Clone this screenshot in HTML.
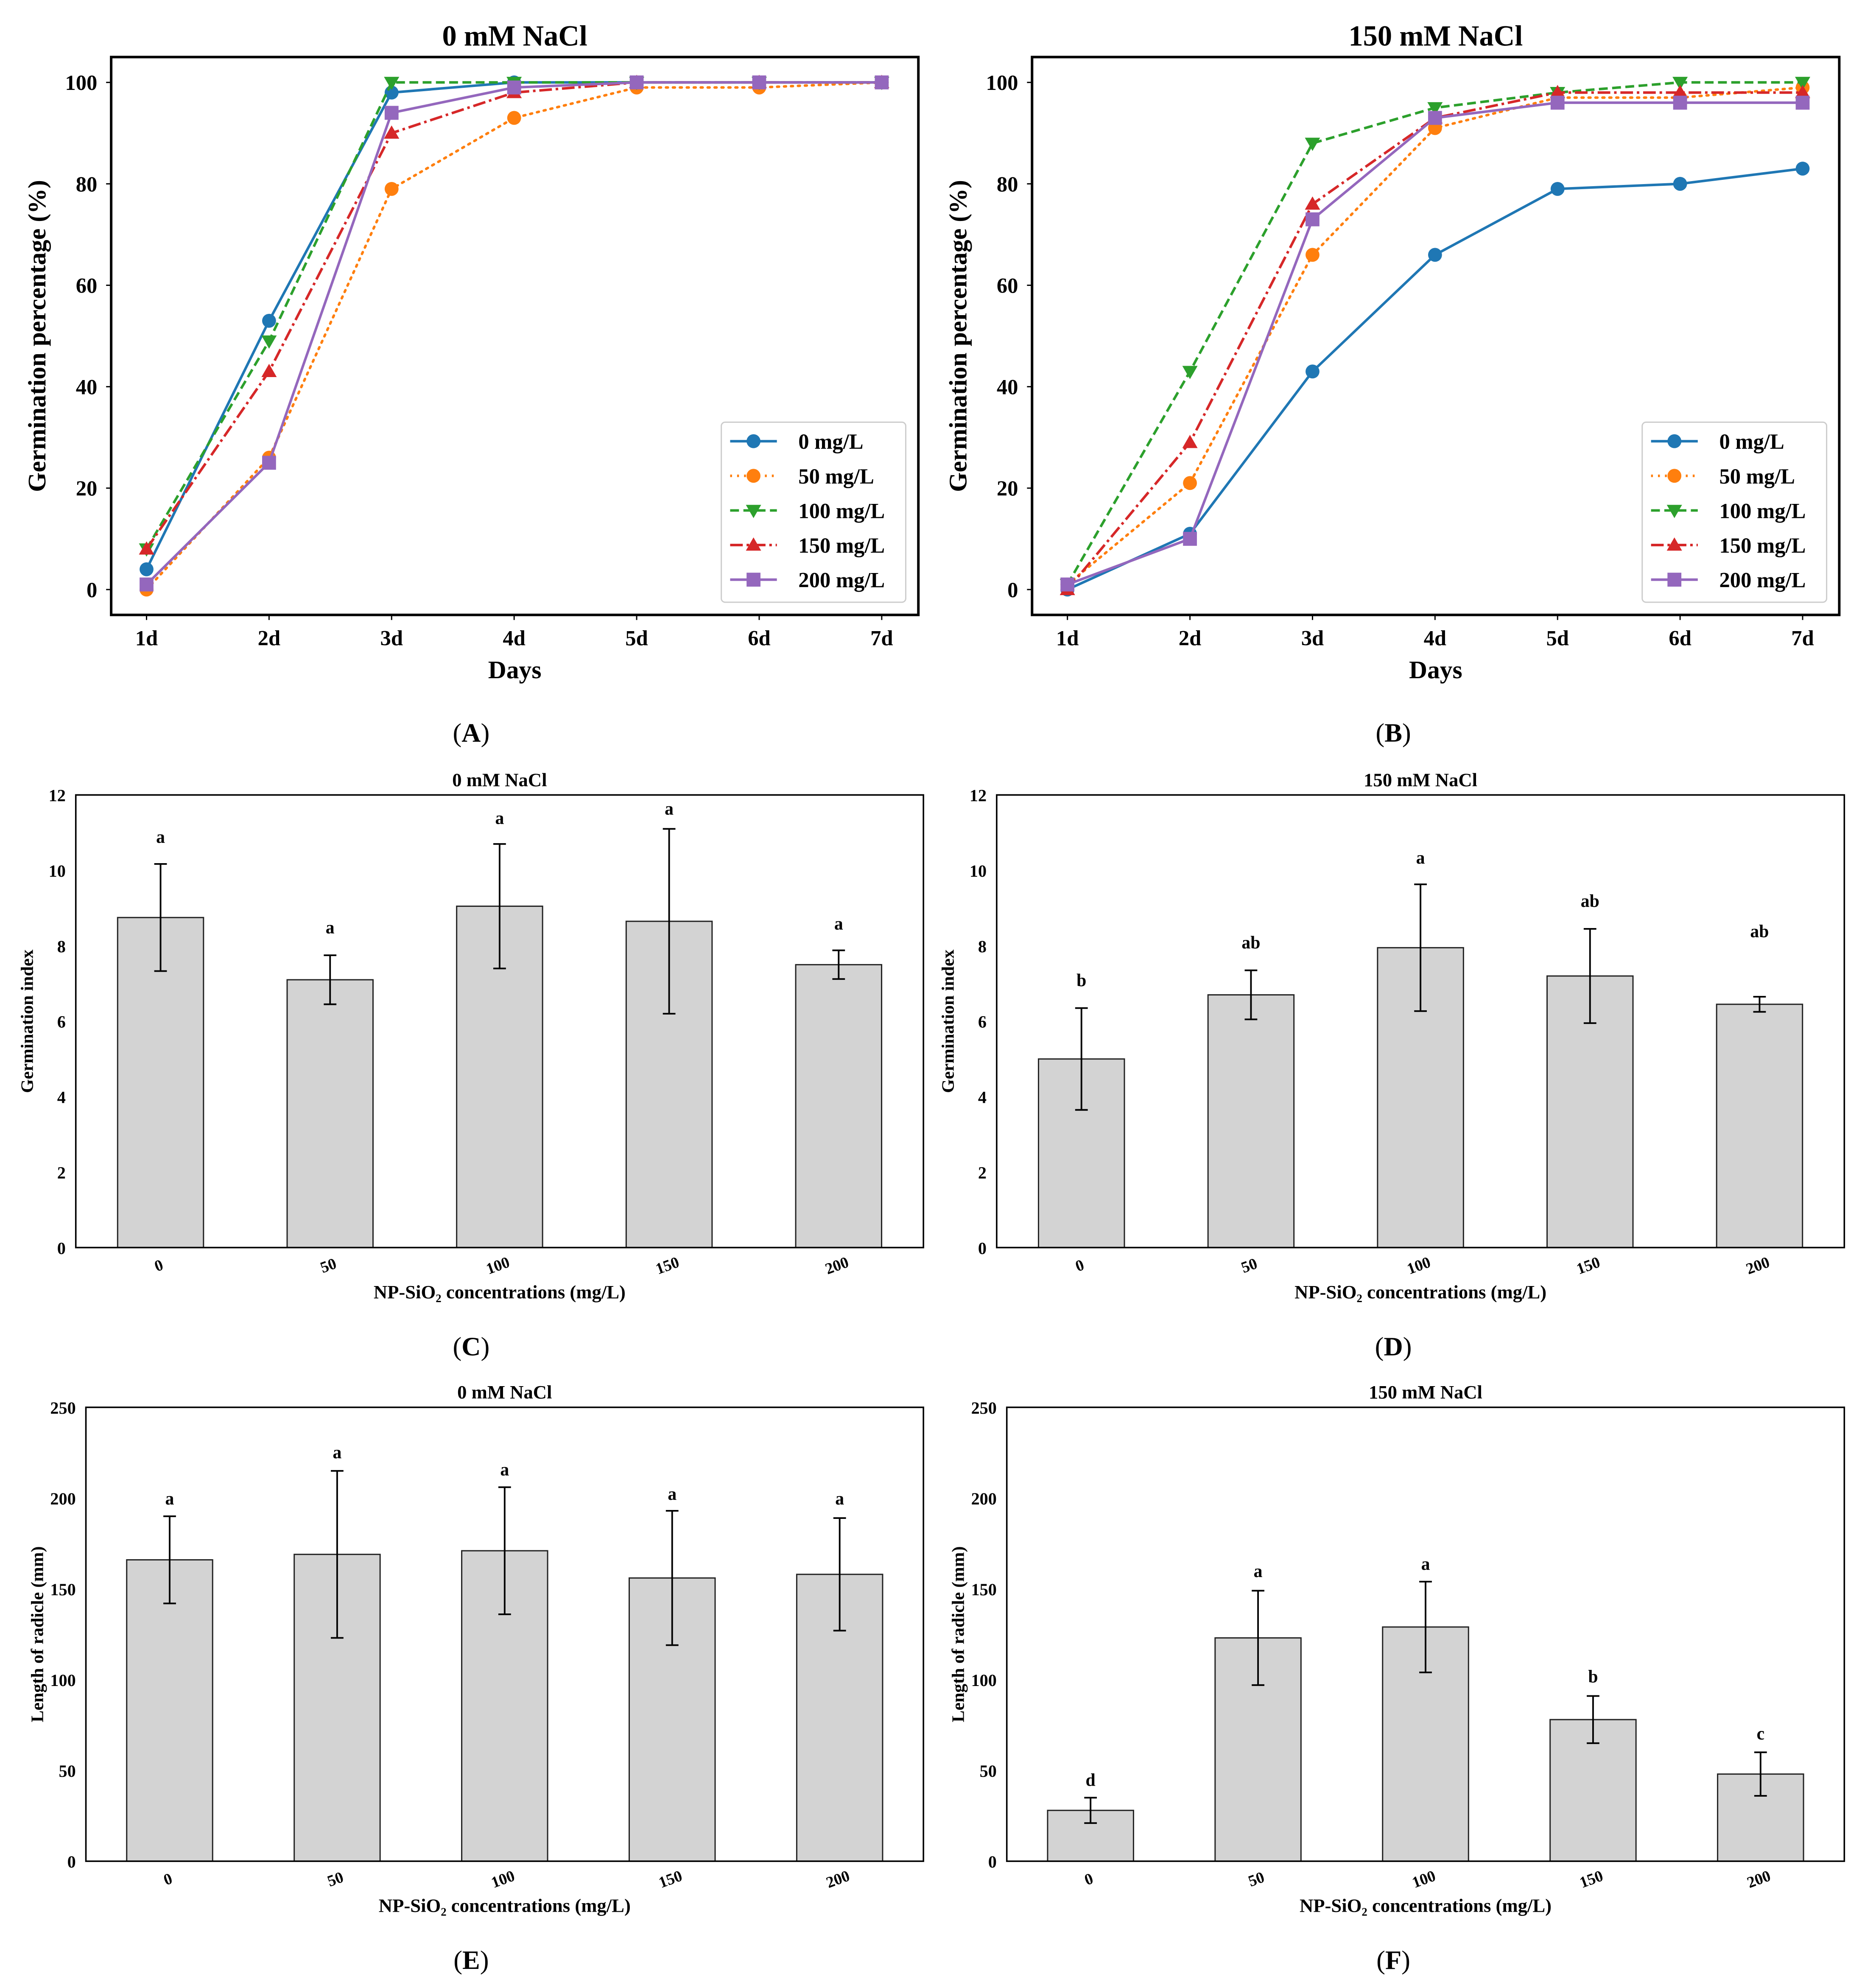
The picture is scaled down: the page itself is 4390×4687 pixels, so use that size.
<!DOCTYPE html>
<html><head><meta charset="utf-8"><style>
html,body{margin:0;padding:0;background:#fff}
svg{display:block}
text{font-family:"Liberation Serif",serif;font-weight:bold;fill:#000}
</style></head><body>
<svg id="fig" xmlns="http://www.w3.org/2000/svg" width="4390" height="4687" viewBox="0 0 1474 1568" preserveAspectRatio="none"></svg>
<script>
// ---- Line chart data ----
const days = ["1d","2d","3d","4d","5d","6d","7d"];
const seriesNames = ["0 mg/L","50 mg/L","100 mg/L","150 mg/L","200 mg/L"];
const lineTicks = [0,20,40,60,80,100];
const a0 = [4,53,98,100,100,100,100];
const a50 = [0,26,79,93,99,99,100];
const a100 = [8,49,100,100,100,100,100];
const a150 = [8,43,90,98,100,100,100];
const a200 = [1,25,94,99,100,100,100];
const b0 = [0,11,43,66,79,80,83];
const b50 = [1,21,66,91,97,97,99];
const b100 = [1,43,88,95,98,100,100];
const b150 = [0,29,76,93,98,98,98];
const b200 = [1,10,73,93,96,96,96];
// ---- Bar chart data ----
const conc = ["0","50","100","150","200"];
const giTicks = [0,2,4,6,8,10,12];
const rTicks = [0,50,100,150,200,250];
const cMean = [8.75,7.1,9.05,8.65,7.5];
const cErr = [1.42,0.65,1.65,2.45,0.38];
const cLet = ["a","a","a","a","a"];
const cLetY = [10.9,8.5,11.4,11.65,8.6];
const dMean = [5.0,6.7,7.95,7.2,6.45];
const dErr = [1.35,0.65,1.68,1.25,0.2];
const dLet = ["b","ab","a","ab","ab"];
const dLetY = [7.1,8.1,10.35,9.2,8.4];
const eMean = [166,169,171,156,158];
const eErr = [24,46,35,37,31];
const eLet = ["a","a","a","a","a"];
const eLetY = [200,225.5,216,202.5,200];
const fMean = [28,123,129,78,48];
const fErr = [7,26,25,13,12];
const fLet = ["d","a","a","b","c"];
const fLetY = [45,160,164,102,70.5];

const NS="http://www.w3.org/2000/svg";
const svg=document.getElementById('fig');
function mk(tag,attrs,parent,txt){
  const e=document.createElementNS(NS,tag);
  for(const k in attrs)e.setAttribute(k,attrs[k]);
  if(txt!==undefined)e.textContent=txt;
  (parent||svg).appendChild(e);return e;
}
const colors=["#1f77b4","#ff7f0e","#2ca02c","#d62728","#9467bd"];
const dashes=["","1.5,4","7,3.5","10,3,2,3",""];
const markers=["circle","circle","tri-down","tri-up","square"];

function marker(g,type,x,y,c,r){
  let m;
  if(type==="circle")m=mk('circle',{cx:x,cy:y,r:r,fill:c},g);
  else if(type==="square")m=mk('rect',{x:x-r,y:y-r,width:2*r,height:2*r,fill:c},g);
  else if(type==="tri-down")m=mk('polygon',{points:`${x-r*1.1},${y-r*0.8} ${x+r*1.1},${y-r*0.8} ${x},${y+r*1.1}`,fill:c},g);
  else m=mk('polygon',{points:`${x-r*1.1},${y+r*0.8} ${x+r*1.1},${y+r*0.8} ${x},${y-r*1.1}`,fill:c},g);
  
  
}

function lineChart(name,L,R,T,B,title,data,legL){
  const g=mk('g',{});
  
  
  const x0=L+28,x1=R-29;
  const xs=i=>x0+(x1-x0)*i/(days.length-1);
  const ys=v=>(B-20)-(B-20-(T+20))*v/100;
  const t=mk('text',{x:(L+R)/2,y:T-9,'text-anchor':'middle','font-size':23},g,title);
  
  lineTicks.forEach(v=>{
    mk('line',{x1:L-4,x2:L,y1:ys(v),y2:ys(v),stroke:'#000','stroke-width':1},g);
    const tt=mk('text',{x:L-11,y:ys(v)+6,'text-anchor':'end','font-size':17},g,v);
    
  });
  days.forEach((d,i)=>{
    mk('line',{x1:xs(i),x2:xs(i),y1:B,y2:B+4,stroke:'#000','stroke-width':1},g);
    const tt=mk('text',{x:xs(i),y:B+24,'text-anchor':'middle','font-size':17},g,d);
    
  });
  const xl=mk('text',{x:(L+R)/2,y:B+50,'text-anchor':'middle','font-size':20},g,'Days');
  
  const yl=mk('text',{x:0,y:0,'text-anchor':'middle','font-size':20,transform:`translate(${L-52},${(T+B)/2}) rotate(-90)`},g,'Germination percentage (%)');
  
  data.forEach((s,k)=>{
    const sg=mk('g',{},g);
    
    
    const pts=s.map((v,i)=>xs(i)+','+ys(v)).join(' ');
    const pl=mk('polyline',{points:pts,fill:'none',stroke:colors[k],'stroke-width':2},sg);
    if(dashes[k])pl.setAttribute('stroke-dasharray',dashes[k]);
    if(k===1)pl.setAttribute('stroke-linecap','round');
    s.forEach((v,i)=>marker(sg,markers[k],xs(i),ys(v),colors[k],5.5));
  });
  mk('rect',{x:L,y:T,width:R-L,height:B-T,fill:'none',stroke:'#000','stroke-width':2},g);
  // legend
  const lg=mk('g',{},g);
  
  mk('rect',{x:legL,y:333,width:146,height:142,rx:3,fill:'#fff','fill-opacity':0.8,stroke:'#ccc','stroke-width':1},lg);
  seriesNames.forEach((n,k)=>{
    const yy=348+k*27.3;
    const le=mk('g',{},lg);
    
    const ln=mk('line',{x1:legL+7,x2:legL+44,y1:yy,y2:yy,stroke:colors[k],'stroke-width':2},le);
    if(dashes[k])ln.setAttribute('stroke-dasharray',dashes[k]);
    marker(le,markers[k],legL+25.5,yy,colors[k],5.5);
    mk('text',{x:legL+61,y:yy+6,'font-size':17},le,n);
  });
}

function barChart(name,L,R,T,B,title,ymax,ticks,mean,err,lets,letY,ylab){
  const g=mk('g',{});
  
  
  const n=conc.length,step=(R-L)/n;
  const xs=i=>L+step*(i+0.5);
  const ys=v=>B-(B-T)*v/ymax;
  const bw=68;
  const t=mk('text',{x:(L+R)/2,y:T-7,'text-anchor':'middle','font-size':15},g,title);
  
  ticks.forEach(v=>{
    const tt=mk('text',{x:L-8,y:ys(v)+5,'text-anchor':'end','font-size':13.5},g,v);
    
  });
  mean.forEach((m,i)=>{
    const r=mk('rect',{x:xs(i)-bw/2,y:ys(m),width:bw,height:B-ys(m),fill:'#d3d3d3',stroke:'#222','stroke-width':1},g);
    
    const eg=mk('g',{stroke:'#000','stroke-width':1.3},g);
    
    mk('line',{x1:xs(i),x2:xs(i),y1:ys(m-err[i]),y2:ys(m+err[i])},eg);
    mk('line',{x1:xs(i)-5,x2:xs(i)+5,y1:ys(m-err[i]),y2:ys(m-err[i])},eg);
    mk('line',{x1:xs(i)-5,x2:xs(i)+5,y1:ys(m+err[i]),y2:ys(m+err[i])},eg);
    const lt=mk('text',{x:xs(i),y:ys(letY[i])+5,'text-anchor':'middle','font-size':14},g,lets[i]);
    
    const xt=mk('text',{x:0,y:0,'text-anchor':'middle','font-size':12.5,transform:`translate(${xs(i)},${B+18}) rotate(-20)`},g,conc[i]);
    
  });
  mk('rect',{x:L,y:T,width:R-L,height:B-T,fill:'none',stroke:'#000','stroke-width':1.2},g);
  const xl=mk('text',{x:(L+R)/2,y:B+40,'text-anchor':'middle','font-size':15},g,'NP-SiO₂ concentrations (mg/L)');
  
  const yl=mk('text',{x:0,y:0,'text-anchor':'middle','font-size':14,transform:`translate(${L-34},${(T+B)/2}) rotate(-90)`},g,ylab);
  
}

function panelLabel(x,y,s){
  const t=mk('text',{x:x,y:y,'text-anchor':'middle','font-size':21,'font-weight':'normal',style:'font-weight:normal'},svg);
  t.innerHTML='(<tspan font-weight="bold" style="font-weight:bold">'+s+'</tspan>)';
  
  
}

lineChart('panel-a-chart',88,727,45,485,'0 mM NaCl',[a0,a50,a100,a150,a200],571);
lineChart('panel-b-chart',817,1456,45,485,'150 mM NaCl',[b0,b50,b100,b150,b200],1300);
barChart('panel-c-chart',60,731,627,984,'0 mM NaCl',12,giTicks,cMean,cErr,cLet,cLetY,'Germination index');
barChart('panel-d-chart',789,1460,627,984,'150 mM NaCl',12,giTicks,dMean,dErr,dLet,dLetY,'Germination index');
barChart('panel-e-chart',68,731,1110,1468,'0 mM NaCl',250,rTicks,eMean,eErr,eLet,eLetY,'Length of radicle (mm)');
barChart('panel-f-chart',797,1460,1110,1468,'150 mM NaCl',250,rTicks,fMean,fErr,fLet,fLetY,'Length of radicle (mm)');
panelLabel(373,585,'A');panelLabel(1103,585,'B');
panelLabel(373,1069,'C');panelLabel(1103,1069,'D');
panelLabel(373,1553,'E');panelLabel(1103,1553,'F');
</script>
</body></html>
